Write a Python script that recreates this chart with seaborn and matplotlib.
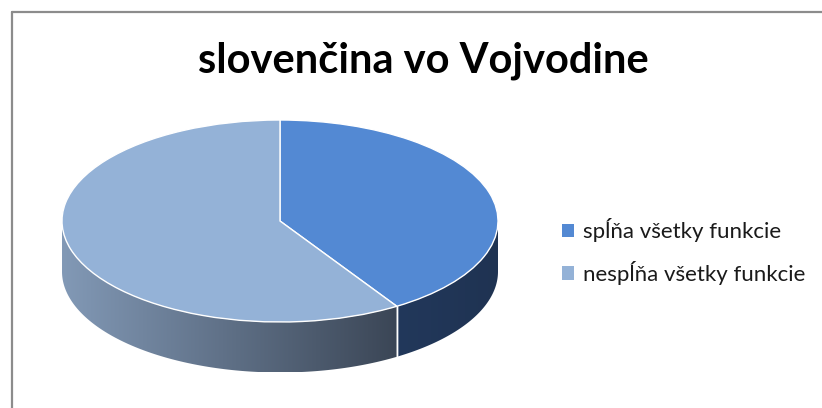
import numpy as np
import matplotlib
matplotlib.use("Agg")
import matplotlib.pyplot as plt
import seaborn as sns
from matplotlib.patches import Polygon
from matplotlib.colors import LinearSegmentedColormap

sns.set_theme(style="white")
plt.rcParams['font.family'] = ['Lato', 'DejaVu Sans']

# ---- data ----
title = "slovenčina vo Vojvodine"
categories = ["spĺňa všetky funkcie", "nespĺňa všetky funkcie"]
values = [41, 59]

top_colors = ["#5389d3", "#94b2d7"]
side_left = ["#22385b", "#8299b6"]
side_right = ["#1f3352", "#3b4656"]

W, H = 822, 408
fig = plt.figure(figsize=(W / 100, H / 100), dpi=100)
fig.patch.set_facecolor("white")

# pie geometry in pixels
cx, cy = 280, 221
rx, ry = 218, 101
depth = 0.5  # in radius units
xm, ylo, yhi = 1.05, -1.55, 1.05
left_px = cx - xm * rx
width_px = 2 * xm * rx
top_px = cy - yhi * ry
height_px = (yhi - ylo) * ry
ax = fig.add_axes([left_px / W, 1 - (top_px + height_px) / H, width_px / W, height_px / H])

wedges, _ = ax.pie(values, colors=top_colors, startangle=90, counterclock=False,
                   wedgeprops=dict(edgecolor="white", linewidth=1.0, zorder=3))
ax.set_aspect("auto")
ax.axis("off")

# extruded sides computed from wedge angles
for i, w in enumerate(wedges):
    t1, t2 = w.theta1 % 360, w.theta2 % 360
    if t2 <= t1:
        t2 += 360
    segs = []
    for lo, hi in [(180, 360), (540, 720)]:
        a, b = max(t1, lo), min(t2, hi)
        if b > a:
            segs.append((a, b))
    for a, b in segs:
        t = np.radians(np.linspace(a, b, 200))
        top = np.column_stack([np.cos(t), np.sin(t)])
        bot = np.column_stack([np.cos(t[::-1]), np.sin(t[::-1]) - depth])
        poly = Polygon(np.vstack([top, bot]), closed=True, facecolor="none",
                       edgecolor="none", transform=ax.transData)
        ax.add_patch(poly)
        cmap = LinearSegmentedColormap.from_list("g%d" % i, [side_left[i], side_right[i]])
        x0, x1 = np.cos(t).min(), np.cos(t).max()
        grad = np.linspace(0, 1, 256).reshape(1, -1)
        im = ax.imshow(grad, cmap=cmap, aspect="auto",
                       extent=[x0, x1, -1 - depth, 0.2], zorder=1)
        im.set_clip_path(poly)
        for ang in (a, b):
            if ang % 180 != 0:
                r = np.radians(ang)
                ax.plot([np.cos(r), np.cos(r)], [np.sin(r), np.sin(r) - depth],
                        color="white", lw=1.0, zorder=2)

ax.set_xlim(-xm, xm)
ax.set_ylim(ylo, yhi)

# title
fig.text(423 / W, 1 - 73 / H, title, ha="center", va="baseline",
         fontsize=30, fontweight="bold", color="black")

# legend
leg = fig.legend(wedges, categories, loc="upper left",
                 bbox_to_anchor=(551 / W, 1 - 207 / H), frameon=False,
                 fontsize=16, handlelength=0.55, handleheight=0.55,
                 handletextpad=0.4, labelspacing=0.85, borderpad=0)
for txt in leg.get_texts():
    txt.set_color("#1a1a1a")
for h in leg.legend_handles:
    h.set_edgecolor("none")

# chart border (left and top only visible)
fig.add_artist(plt.Line2D([11.5 / W, 11.5 / W], [0, 1 - 12 / H], color="#8c8c8c", lw=1.6))
fig.add_artist(plt.Line2D([11.5 / W, 1], [1 - 12 / H, 1 - 12 / H], color="#8c8c8c", lw=1.6))

fig.savefig("out.png", dpi=100, facecolor="white")
